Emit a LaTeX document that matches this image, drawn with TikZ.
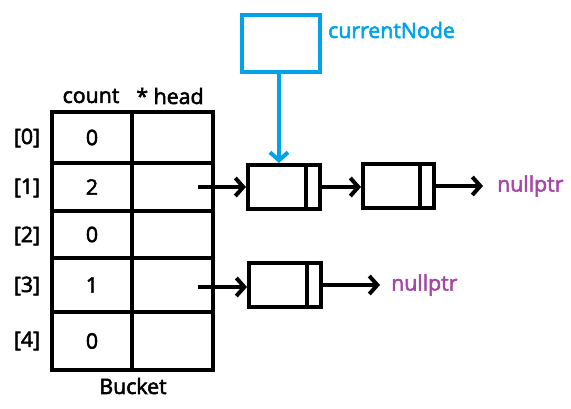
\documentclass[tikz,border=0pt]{standalone}
\usepackage{fontspec}
\setmainfont{Open Sans}
\newfontfamily\semifont{Open Sans}[FakeBold=2.5]
\usetikzlibrary{arrows.meta}
\definecolor{cblue}{RGB}{0,162,232}
\definecolor{cpurple}{RGB}{163,73,164}
\tikzset{
  cell/.style={draw, line width=4pt, inner sep=0pt, minimum width=80pt},
  lnode/.style={draw, line width=4pt, inner sep=0pt, minimum width=72pt, minimum height=44pt},
  arr/.style={line width=4pt, -{Straight Barb[length=8pt,width=18pt]}},
  txt/.style={inner sep=0pt, font=\semifont\fontsize{21.3}{25}\selectfont},
}
\begin{document}
\begin{tikzpicture}[x=1pt,y=-1pt]
\useasboundingbox (0,0) rectangle (571,409);
% bucket cells
\node[cell, minimum height=51pt, txt] (c0) at (92,137.5) {0};
\node[cell, minimum height=48pt, txt] (c1) at (92,187) {2};
\node[cell, minimum height=47pt, txt] (c2) at (92,234.5) {0};
\node[cell, minimum height=54pt, txt] (c3) at (92,285) {1};
\node[cell, minimum height=58pt, txt] (c4) at (92,341) {0};
\node[cell, minimum width=81pt, minimum height=51pt] (h0) at (172.5,137.5) {};
\node[cell, minimum width=81pt, minimum height=48pt] (h1) at (172.5,187) {};
\node[cell, minimum width=81pt, minimum height=47pt] (h2) at (172.5,234.5) {};
\node[cell, minimum width=81pt, minimum height=54pt] (h3) at (172.5,285) {};
\node[cell, minimum width=81pt, minimum height=58pt] (h4) at (172.5,341) {};
% labels
\node[txt] (lc) at (91,96) {count};
\node[txt] (lh) at (170,96) {* head};
\node[txt] (lb) at (133,386) {Bucket};
\node[txt] (i0) at (27,138) {[0]};
\node[txt] (i1) at (27,188) {[1]};
\node[txt] (i2) at (27,236) {[2]};
\node[txt] (i3) at (27,286) {[3]};
\node[txt] (i4) at (27,341) {[4]};
% linked nodes
\node[lnode] (n1) at (284,187) {};
\node[lnode, minimum width=71pt] (n2) at (398.5,186) {};
\node[lnode] (n3) at (285,285) {};
\draw[line width=4pt] ([xshift=-16pt]n1.north east) -- ([xshift=-16pt]n1.south east);
\draw[line width=4pt] ([xshift=-16pt]n2.north east) -- ([xshift=-16pt]n2.south east);
\draw[line width=4pt] ([xshift=-16pt]n3.north east) -- ([xshift=-16pt]n3.south east);
% currentNode
\node[draw=cblue, line width=4pt, minimum width=78pt, minimum height=57pt, inner sep=0pt] (cur) at (281,43.5) {};
\node[txt, text=cblue, anchor=west] (lcur) at (328,30) {currentNode};
% nullptr
\node[txt, text=cpurple, anchor=west] (null1) at (497,186) {nullptr};
\node[txt, text=cpurple, anchor=west] (null2) at (391,285) {nullptr};
% arrows
\coordinate (p1) at (198,187);
\coordinate (p3) at (198,287);
\draw[arr] (p1) -- (n1.west);
\draw[arr] (p3) -- (n3.west |- p3);
\draw[arr] (n1.east) -- (n2.west |- n1.east);
\draw[arr] (n2.east) -- ([xshift=-14pt]null1.west);
\draw[arr] (n3.east) -- ([xshift=-11pt]null2.west);
\draw[arr, draw=cblue] ([xshift=-2pt]cur.south) -- ([xshift=-2pt]cur.south |- n1.north);
\end{tikzpicture}
\end{document}
